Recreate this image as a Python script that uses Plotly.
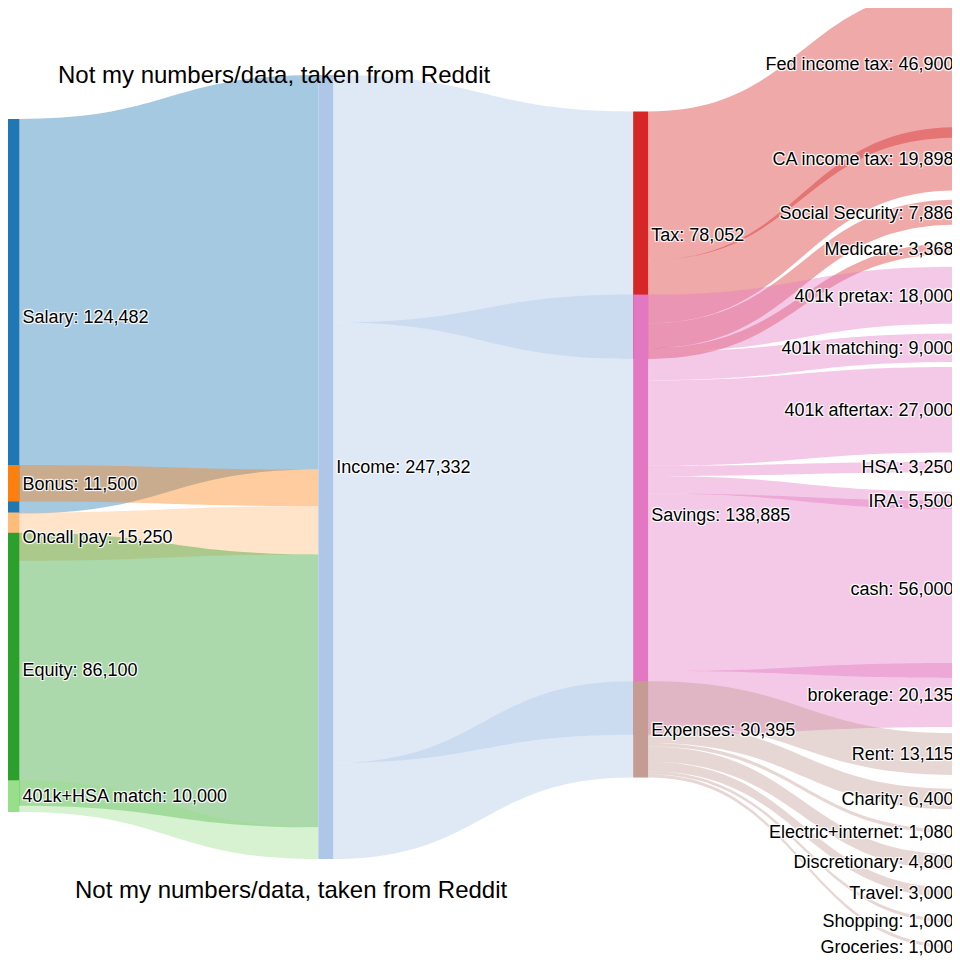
import plotly.graph_objects as go

names = ["Salary", "Bonus", "Oncall pay", "Equity", "401k+HSA match", "Income",
         "Tax", "Savings", "Expenses",
         "Fed income tax", "CA income tax", "Social Security", "Medicare",
         "401k pretax", "401k matching", "401k aftertax", "HSA", "IRA", "cash", "brokerage",
         "Rent", "Charity", "Electric+internet", "Discretionary", "Travel", "Shopping", "Groceries"]

sources = ["Salary", "Bonus", "Oncall pay", "Equity", "401k+HSA match",
           "Income", "Income", "Income",
           "Tax", "Tax", "Tax", "Tax",
           "Savings", "Savings", "Savings", "Savings", "Savings", "Savings", "Savings",
           "Expenses", "Expenses", "Expenses", "Expenses", "Expenses", "Expenses", "Expenses"]
targets = ["Income", "Income", "Income", "Income", "Income",
           "Tax", "Savings", "Expenses",
           "Fed income tax", "CA income tax", "Social Security", "Medicare",
           "401k pretax", "401k matching", "401k aftertax", "HSA", "IRA", "cash", "brokerage",
           "Rent", "Charity", "Electric+internet", "Discretionary", "Travel", "Shopping", "Groceries"]
values = [124482, 11500, 15250, 86100, 10000,
          78052, 138885, 30395,
          46900, 19898, 7886, 3368,
          18000, 9000, 27000, 3250, 5500, 56000, 20135,
          13115, 6400, 1080, 4800, 3000, 1000, 1000]

node_colors = ["#1f77b4", "#ff7f0e", "#ffbb78", "#2ca02c", "#98df8a", "#aec7e8",
               "#d62728", "#e377c2", "#c49c94",
               "#ff9896", "#9467bd", "#c5b0d5", "#8c564b",
               "#98df8a", "#98df8a", "#98df8a", "#f7b6d2", "#7f7f7f", "#c7c7c7", "#bcbd22",
               "#dbdb8d", "#17becf", "#9edae5", "#1f77b4", "#aec7e8", "#ff7f0e", "#ffbb78"]

# layout of the nodes (column and vertical centre, as fraction of the plot)
node_x = [0.001] * 5 + [0.33] + [0.66] * 3 + [0.999] * 18
node_y = [0.32, 0.495, 0.551, 0.69, 0.823, 0.478,
          0.235, 0.528, 0.753,
          0.055, 0.155, 0.211, 0.249,
          0.298, 0.353, 0.418, 0.478, 0.513, 0.606, 0.717,
          0.779, 0.826, 0.86, 0.892, 0.924, 0.954, 0.981]


def rgba(h, a):
    h = h.lstrip("#")
    return "rgba(%d,%d,%d,%s)" % (int(h[0:2], 16), int(h[2:4], 16), int(h[4:6], 16), a)


idx = {n: i for i, n in enumerate(names)}
totals = {}
for t, v in zip(targets, values):
    totals[t] = totals.get(t, 0) + v
for s, v in zip(sources, values):
    if s not in targets:
        totals[s] = v
labels = ["%s: %s" % (n, format(totals[n], ",")) for n in names]

fig = go.Figure(go.Sankey(
    arrangement="fixed",
    node=dict(label=labels, color=node_colors, pad=10, thickness=15,
              line=dict(width=0), x=node_x, y=node_y),
    link=dict(source=[idx[s] for s in sources], target=[idx[t] for t in targets],
              value=values, color=[rgba(node_colors[idx[s]], 0.4) for s in sources]),
    textfont=dict(size=18, color="black", family="Arial"),
))

note = "Not my numbers/data, taken from Reddit"
fig.add_annotation(text=note, x=45 / 954, y=0.95, xref="paper", yref="paper",
                   xanchor="left", showarrow=False,
                   font=dict(size=24, color="black", family="Arial"))
fig.add_annotation(text=note, x=62 / 954, y=0.063, xref="paper", yref="paper",
                   xanchor="left", showarrow=False,
                   font=dict(size=24, color="black", family="Arial"))

fig.update_layout(width=960, height=960, margin=dict(l=3, r=3, t=3, b=3),
                  paper_bgcolor="white")
fig.write_html("out.html")
